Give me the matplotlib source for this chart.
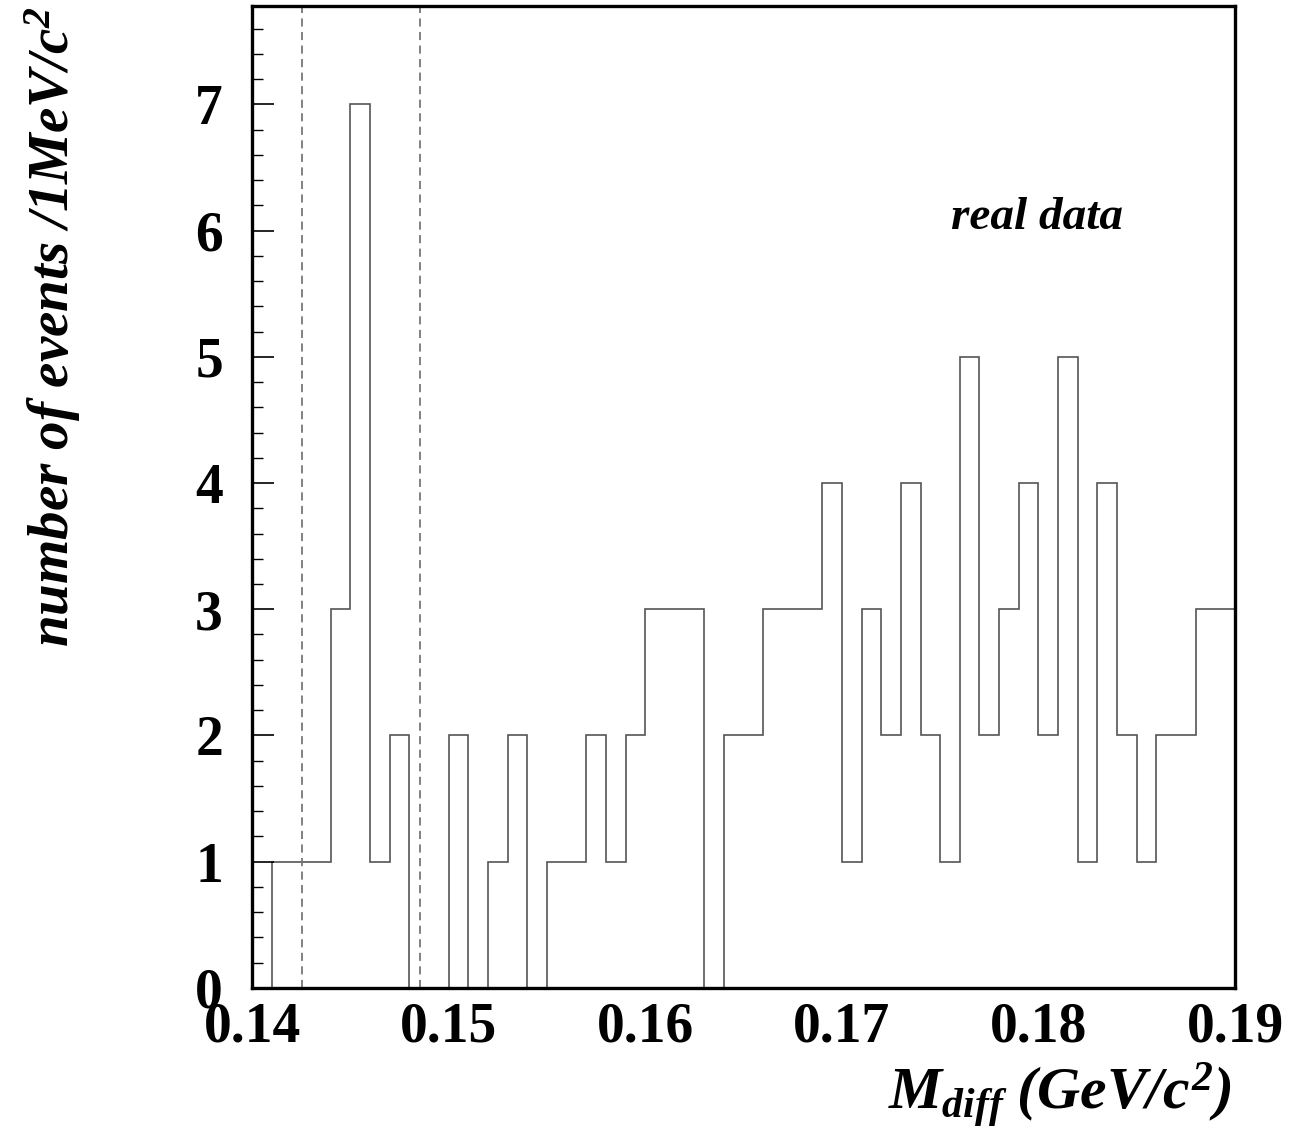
import matplotlib
matplotlib.use("Agg")
import matplotlib.pyplot as plt
import numpy as np
from matplotlib.ticker import MultipleLocator

# 1 MeV bins from 0.140 to 0.190 GeV/c^2
bin_edges = np.round(np.arange(0.140, 0.1905, 0.001), 3)
counts = [0, 1, 1, 1, 3, 7, 1, 2, 0, 0,
          2, 0, 1, 2, 0, 1, 1, 2, 1, 2,
          3, 3, 3, 0, 2, 2, 3, 3, 3, 4,
          1, 3, 2, 4, 2, 1, 5, 2, 3, 4,
          2, 5, 1, 4, 2, 1, 2, 2, 3, 3]
signal_window = [0.14255, 0.14855]
xtick_vals = [0.14, 0.15, 0.16, 0.17, 0.18, 0.19]
xtick_labels = ["0.14", "0.15", "0.16", "0.17", "0.18", "0.19"]

plt.rcParams["mathtext.fontset"] = "custom"
plt.rcParams["mathtext.it"] = "Liberation Serif:italic:bold"
plt.rcParams["mathtext.rm"] = "Liberation Serif:italic:bold"
plt.rcParams["mathtext.bf"] = "Liberation Serif:italic:bold"

fig = plt.figure(figsize=(13.06, 11.42), dpi=100)
ax = fig.add_axes([0.193, 0.135, 0.7527, 0.8597])

ax.stairs(counts, bin_edges, color="#555555", linewidth=1.2)
for xv in signal_window:
    ax.axvline(xv, color="#777777", linestyle=(0, (4.5, 3)), linewidth=1.3)

ax.set_xlim(0.14, 0.19)
ax.set_ylim(0, 7.78)
ax.set_xticks(xtick_vals)
ax.set_xticklabels(xtick_labels)
ax.yaxis.set_major_locator(MultipleLocator(1))
ax.yaxis.set_minor_locator(MultipleLocator(0.2))

for lab in ax.get_xticklabels() + ax.get_yticklabels():
    lab.set_fontfamily("Liberation Serif")
    lab.set_fontweight("bold")
    lab.set_fontsize(40)

ax.tick_params(axis="x", which="both", length=0, pad=10)
ax.tick_params(axis="y", which="major", direction="in", length=16, width=1.2, pad=21)
ax.tick_params(axis="y", which="minor", direction="in", length=8, width=1.0)

for sp in ax.spines.values():
    sp.set_linewidth(2.4)

ax.set_ylabel(r"number of events /1MeV/c$^{2}$", fontfamily="Liberation Serif",
              fontweight="bold", fontstyle="italic", fontsize=41)
ax.yaxis.set_label_coords(-0.172, 1.0)
ax.yaxis.label.set_horizontalalignment("right")

fig.text(0.943, 0.029, r"$M_{diff}\;(GeV/c^{2})$", ha="right", va="baseline",
         fontsize=43)

ax.text(0.1799, 6.1, "real data", fontfamily="Liberation Serif", fontweight="bold",
        fontstyle="italic", fontsize=34, ha="center", va="center")

fig.savefig("out.png", dpi=100)
